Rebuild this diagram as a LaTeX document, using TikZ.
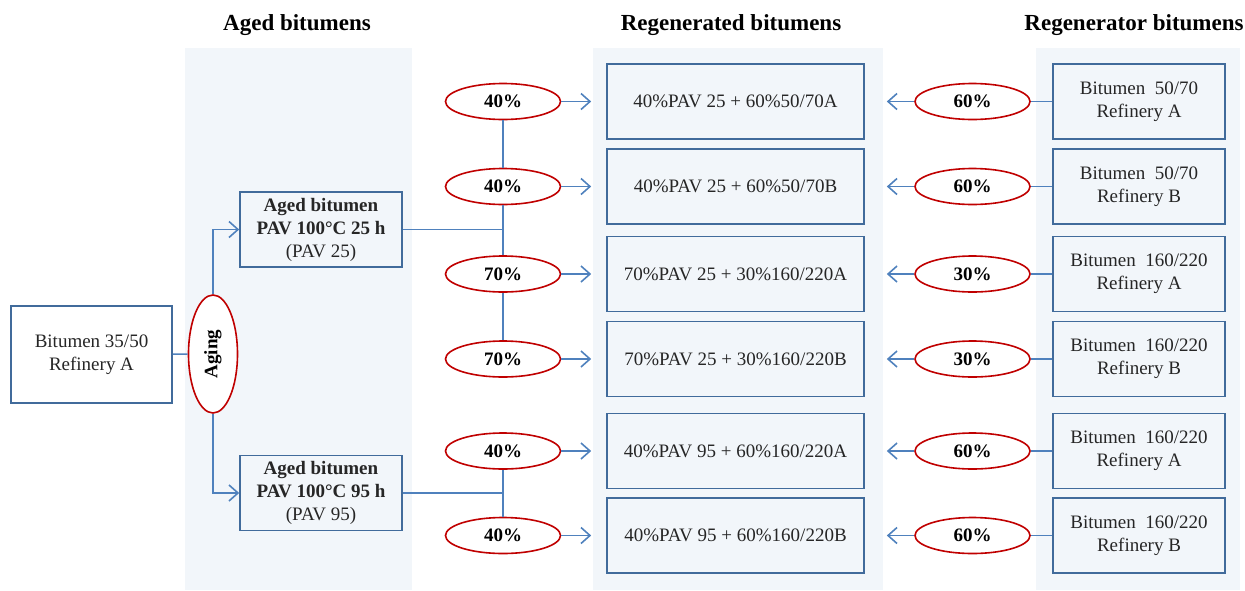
\documentclass[tikz,border=0pt]{standalone}
\usepackage{fontspec}
\setmainfont{Liberation Serif}
\usetikzlibrary{shapes.geometric,arrows.meta}
\definecolor{boxblue}{RGB}{65,107,155}
\definecolor{linkblue}{RGB}{79,129,189}
\definecolor{ringred}{RGB}{192,0,0}
\definecolor{panelgray}{RGB}{242,246,250}
\tikzset{
  panel/.style={fill=panelgray,draw=none},
  head/.style={font=\fontsize{23}{27}\selectfont\bfseries},
  bitbox/.style={draw=boxblue,line width=1.6pt,fill=panelgray,inner sep=0pt,align=center,
    font=\fontsize{19}{23}\selectfont,text=black!85},
  pct/.style={ellipse,draw=ringred,line width=1.6pt,fill=white,minimum width=115pt,
    minimum height=36pt,inner sep=0pt,font=\fontsize{19}{23}\selectfont\bfseries},
  link/.style={draw=linkblue,line width=1.6pt},
  feed/.style={link,-{Straight Barb[length=9pt,width=16pt]}}
}
\begin{document}
\begin{tikzpicture}[x=1pt,y=1pt]
      \useasboundingbox (0,0) rectangle (1245,-590);
      \fill[panel] (185,-48) rectangle (412,-590);
      \fill[panel] (593,-48) rectangle (883,-590);
      \fill[panel] (1036,-48) rectangle (1240,-590);
      \node[head] (h1) at (297,-25) {Aged bitumens};
      \node[head] (h2) at (731,-25) {Regenerated bitumens};
      \node[head] (h3) at (1134,-25) {Regenerator bitumens};

      \node[bitbox,fill=white,minimum width=161pt,minimum height=97pt] (src) at (91.5,-354.5)
        {Bitumen 35/50\\Refinery A};
      \node[pct,minimum width=49pt,minimum height=118pt] (aging) at (213,-354)
        {\rotatebox{90}{Aging}};
      \node[bitbox,minimum width=162pt,minimum height=75pt] (a1) at (321,-229.5)
        {\textbf{Aged bitumen}\\\textbf{PAV 100°C 25 h}\\(PAV 25)};
      \node[bitbox,minimum width=162pt,minimum height=75pt] (a2) at (321,-493)
        {\textbf{Aged bitumen}\\\textbf{PAV 100°C 95 h}\\(PAV 95)};

      \node[pct] (l1) at (503,-101.5) {40\%};
      \node[pct] (l2) at (503,-186.5) {40\%};
      \node[pct] (l3) at (503,-274) {70\%};
      \node[pct] (l4) at (503,-359) {70\%};
      \node[pct] (l5) at (503,-451) {40\%};
      \node[pct] (l6) at (503,-535.5) {40\%};

      \node[bitbox,minimum width=257pt,minimum height=75pt] (r1) at (735.5,-101.5) {40\%PAV 25 + 60\%50/70A};
      \node[bitbox,minimum width=257pt,minimum height=75pt] (r2) at (735.5,-186.5) {40\%PAV 25 + 60\%50/70B};
      \node[bitbox,minimum width=257pt,minimum height=75pt] (r3) at (735.5,-274) {70\%PAV 25 + 30\%160/220A};
      \node[bitbox,minimum width=257pt,minimum height=75pt] (r4) at (735.5,-359) {70\%PAV 25 + 30\%160/220B};
      \node[bitbox,minimum width=257pt,minimum height=75pt] (r5) at (735.5,-451) {40\%PAV 95 + 60\%160/220A};
      \node[bitbox,minimum width=257pt,minimum height=75pt] (r6) at (735.5,-535.5) {40\%PAV 95 + 60\%160/220B};

      \node[pct] (p1) at (972.5,-101.5) {60\%};
      \node[pct] (p2) at (972.5,-186.5) {60\%};
      \node[pct] (p3) at (972.5,-274) {30\%};
      \node[pct] (p4) at (972.5,-359) {30\%};
      \node[pct] (p5) at (972.5,-451) {60\%};
      \node[pct] (p6) at (972.5,-535.5) {60\%};

      \node[bitbox,minimum width=172pt,minimum height=75pt] (s1) at (1139,-101.5) {Bitumen\ \ 50/70\\Refinery A};
      \node[bitbox,minimum width=172pt,minimum height=75pt] (s2) at (1139,-186.5) {Bitumen\ \ 50/70\\Refinery B};
      \node[bitbox,minimum width=172pt,minimum height=75pt] (s3) at (1139,-274) {Bitumen\ \ 160/220\\Refinery A};
      \node[bitbox,minimum width=172pt,minimum height=75pt] (s4) at (1139,-359) {Bitumen\ \ 160/220\\Refinery B};
      \node[bitbox,minimum width=172pt,minimum height=75pt] (s5) at (1139,-451) {Bitumen\ \ 160/220\\Refinery A};
      \node[bitbox,minimum width=172pt,minimum height=75pt] (s6) at (1139,-535.5) {Bitumen\ \ 160/220\\Refinery B};

      \begin{scope}[link]
        \draw (src) -- (aging);
        \draw[feed] (aging.north) |- (a1.west);
        \draw[feed] (aging.south) |- (a2.west);
        \draw (a1.east) -- (a1.east -| l1.south);
        \draw (a2.east) -- (a2.east -| l5.south);
        \draw (l1) -- (l2);
        \draw (l2) -- (l3);
        \draw (l3) -- (l4);
        \draw (l5) -- (l6);
        \draw[feed] (l1.east) -- ([xshift=-15pt]r1.west);
        \draw[feed] (l2.east) -- ([xshift=-15pt]r2.west);
        \draw[feed] (l3.east) -- ([xshift=-15pt]r3.west);
        \draw[feed] (l4.east) -- ([xshift=-15pt]r4.west);
        \draw[feed] (l5.east) -- ([xshift=-15pt]r5.west);
        \draw[feed] (l6.east) -- ([xshift=-15pt]r6.west);
        \draw[feed] (p1.west) -- ([xshift=22pt]r1.east);
        \draw[feed] (p2.west) -- ([xshift=22pt]r2.east);
        \draw[feed] (p3.west) -- ([xshift=22pt]r3.east);
        \draw[feed] (p4.west) -- ([xshift=22pt]r4.east);
        \draw[feed] (p5.west) -- ([xshift=22pt]r5.east);
        \draw[feed] (p6.west) -- ([xshift=22pt]r6.east);
        \draw (s1) -- (p1);
        \draw (s2) -- (p2);
        \draw (s3) -- (p3);
        \draw (s4) -- (p4);
        \draw (s5) -- (p5);
        \draw (s6) -- (p6);
      \end{scope}
    \end{tikzpicture}
\end{document}
